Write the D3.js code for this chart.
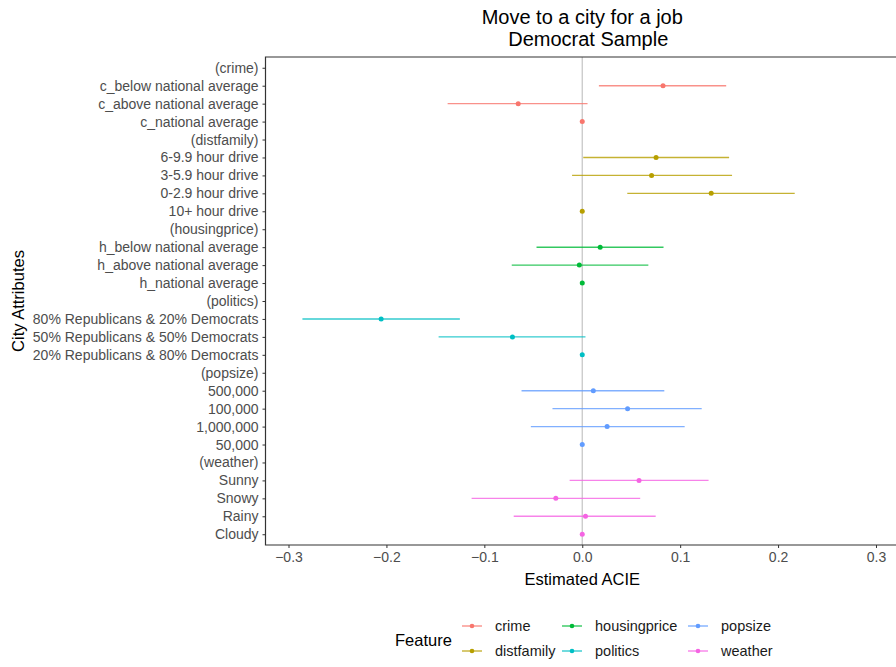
<!DOCTYPE html>
<html><head><meta charset="utf-8">
<script src="https://cdn.jsdelivr.net/npm/d3@7"></script>
<style>body{margin:0;background:#fff;} svg{display:block;font-family:"Liberation Sans",Arial,sans-serif;}</style>
</head><body><svg id="c" width="896" height="667"></svg>
<script>
// Row labels, top to bottom
const labels = ["(crime)","c_below national average","c_above national average","c_national average",
"(distfamily)","6-9.9 hour drive","3-5.9 hour drive","0-2.9 hour drive","10+ hour drive",
"(housingprice)","h_below national average","h_above national average","h_national average",
"(politics)","80% Republicans & 20% Democrats","50% Republicans & 50% Democrats","20% Republicans & 80% Democrats",
"(popsize)","500,000","100,000","1,000,000","50,000",
"(weather)","Sunny","Snowy","Rainy","Cloudy"];
// feature of each row (null for header rows)
const features = [null,"crime","crime","crime",null,"distfamily","distfamily","distfamily","distfamily",
null,"housingprice","housingprice","housingprice",null,"politics","politics","politics",
null,"popsize","popsize","popsize","popsize",null,"weather","weather","weather","weather"];
const estimates = [null,0.0825,-0.0654,0,null,0.0754,0.0708,0.1317,0,null,0.0183,-0.003,0,null,-0.2054,-0.0713,0,
null,0.0113,0.0463,0.0254,0,null,0.058,-0.027,0.0033,0];
const lower = [null,0.017,-0.1375,0,null,0.001,-0.0104,0.046,0,null,-0.0467,-0.072,0,null,-0.2858,-0.1467,0,
null,-0.062,-0.0304,-0.0525,0,null,-0.0129,-0.113,-0.070,0];
const upper = [null,0.147,0.0054,0,null,0.150,0.153,0.217,0,null,0.083,0.0675,0,null,-0.125,0.0033,0,
null,0.0838,0.122,0.1046,0,null,0.129,0.0592,0.075,0];
const featureNames = ["crime","distfamily","housingprice","politics","popsize","weather"];
const featureColors = ["#F8766D","#B79F00","#00BA38","#00BFC4","#619CFF","#F564E3"];
const xTicks = [-0.3,-0.2,-0.1,0.0,0.1,0.2,0.3];
const title1 = "Move to a city for a job", title2 = "Democrat Sample";

const svg = d3.select("#c");
const L = 265.5, R = 899, T = 57, B = 545;
const x = d3.scaleLinear().domain([-0.3235, 0.3235]).range([L, R]);
const y = d3.scalePoint().domain(labels).range([T, B]).padding(0.6);
const color = d3.scaleOrdinal().domain(featureNames).range(featureColors);

// zero line
svg.append("line").attr("x1", x(0)).attr("x2", x(0)).attr("y1", T).attr("y2", B)
  .attr("stroke", "#c8c8c8").attr("stroke-width", 1.3);

const rows = labels.map((l,i)=>({l, f:features[i], e:estimates[i], lo:lower[i], hi:upper[i]})).filter(d=>d.f);
const g = svg.append("g");
g.selectAll("line.ci").data(rows.filter(d=>d.hi>d.lo)).join("line").attr("class","ci")
  .attr("x1", d=>x(d.lo)).attr("x2", d=>x(d.hi)).attr("y1", d=>y(d.l)).attr("y2", d=>y(d.l))
  .attr("stroke", d=>color(d.f)).attr("stroke-width", 1.4).attr("stroke-opacity", 0.8);
g.selectAll("circle").data(rows).join("circle")
  .attr("cx", d=>x(d.e)).attr("cy", d=>y(d.l)).attr("r", 2.5).attr("fill", d=>color(d.f));

// panel border (top, left, bottom)
svg.append("path").attr("d", `M${R+5},${T}H${L}V${B}H${R+5}`).attr("fill","none")
  .attr("stroke", "#333").attr("stroke-width", 1.2);

// axes
const yAxis = svg.append("g").attr("transform", `translate(${L},0)`)
  .call(d3.axisLeft(y).tickSize(3).tickPadding(4));
yAxis.select(".domain").remove();
yAxis.selectAll("line").attr("stroke", "#333");
yAxis.selectAll("text").attr("fill", "#4D4D4D").style("font-size", "14px")
  .style("font-family", "'Liberation Sans',Arial,sans-serif");

const xAxis = svg.append("g").attr("transform", `translate(0,${B})`)
  .call(d3.axisBottom(x).tickValues(xTicks).tickFormat(d3.format(".1f")).tickSize(3).tickPadding(4));
xAxis.select(".domain").remove();
xAxis.selectAll("line").attr("stroke", "#333");
xAxis.selectAll("text").attr("fill", "#4D4D4D").style("font-size", "14px")
  .style("font-family", "'Liberation Sans',Arial,sans-serif");

// titles
const cx = (L + R) / 2;
svg.append("text").attr("x", cx).attr("y", 24).attr("text-anchor","middle").style("font-size","20px").text(title1);
svg.append("text").attr("x", cx + 6).attr("y", 46).attr("text-anchor","middle").style("font-size","20px").text(title2);
svg.append("text").attr("x", cx).attr("y", 585).attr("text-anchor","middle").style("font-size","16.5px").text("Estimated ACIE");
svg.append("text").attr("transform", `translate(24,${(T+B)/2}) rotate(-90)`).attr("text-anchor","middle")
  .style("font-size","16.5px").text("City Attributes");

// legend
svg.append("text").attr("x", 395).attr("y", 646).style("font-size","16.5px").text("Feature");
const cols = [462, 562, 688];
featureNames.forEach((f,i)=>{
  const col = Math.floor(i/2), row = i%2;
  const kx = cols[col], ky = 626 + row*25;
  svg.append("line").attr("x1", kx).attr("x2", kx+20).attr("y1", ky).attr("y2", ky)
    .attr("stroke", color(f)).attr("stroke-width", 1.4).attr("stroke-opacity", 0.8);
  svg.append("circle").attr("cx", kx+10).attr("cy", ky).attr("r", 2.3).attr("fill", color(f));
  svg.append("text").attr("x", kx+33).attr("y", ky+5).style("font-size","14.5px").attr("fill","#1a1a1a").text(f);
});
</script></body></html>
